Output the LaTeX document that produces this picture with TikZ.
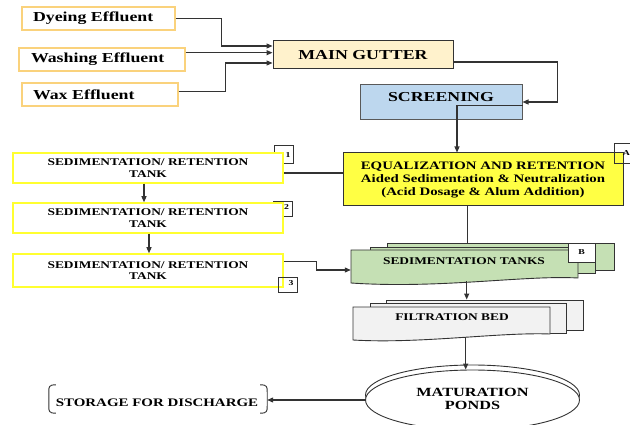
\documentclass[tikz,border=0pt]{standalone}
\usepackage{fontspec}
\setmainfont{Liberation Serif}[FakeStretch=1.3]
\usetikzlibrary{arrows.meta,calc,shapes.geometric}
\definecolor{effc}{HTML}{FAD27C}
\definecolor{tanky}{HTML}{FFFF30}
\definecolor{gutc}{HTML}{FFF2CC}
\definecolor{scrc}{HTML}{BDD7EE}
\definecolor{eqc}{HTML}{FFFF44}
\definecolor{sedc}{HTML}{C5E0B4}
\definecolor{filtc}{HTML}{F2F2F2}
\definecolor{linec}{HTML}{333333}
\tikzset{
  conn/.style={draw=linec, line width=1.1pt},
  arr/.style={conn, -{Triangle[length=6pt,width=5pt]}},
  bigfont/.style={font=\fontsize{13.7}{15}\selectfont\bfseries},
  effbox/.style={draw=effc, line width=1.2pt, fill=white, inner xsep=11pt, inner ysep=0pt,
    minimum height=23pt, align=left, bigfont},
  mainbox/.style={draw=black!80, line width=1pt, inner sep=0pt},
  tankbox/.style={draw=tanky, line width=1.5pt, fill=white, inner sep=0pt, minimum width=270pt,
    align=center, font=\fontsize{10.3}{11.7}\selectfont\bfseries},
  numbox/.style={draw=black!80, line width=0.8pt, inner sep=0pt},
  numtext/.style={inner sep=0pt, font=\fontsize{7.5}{8}\selectfont\bfseries},
  docline/.style={draw=black!80, line width=0.9pt},
  plain/.style={inner sep=0pt},
}
\begin{document}
\begin{tikzpicture}[x=1pt,y=-1pt]
\useasboundingbox (0,0) rectangle (630,425);
\clip (0,0) rectangle (630,425);

% effluent boxes
\node[effbox, text width=131pt] (dye) at (98.5,18.5) {Dyeing Effluent};
\node[effbox, text width=142pt, inner xsep=12pt] (wash) at (102,59.5) {Washing Effluent};
\node[effbox, text width=134pt] (wax) at (100,94.5) {Wax Effluent};

% main gutter and screening
\node[mainbox, fill=gutc, minimum width=180pt, minimum height=28pt, bigfont] (gut) at (363,55) {MAIN GUTTER};
\node[mainbox, draw=black!65, fill=scrc, minimum width=162pt, minimum height=35pt] (scr) at (441,102.5) {};
\node[plain, bigfont] (scrt) at (441,96.7) {SCREENING};

% equalization
\node[mainbox, fill=eqc, minimum width=280pt, minimum height=53pt, align=center,
  font=\fontsize{11.4}{13}\selectfont\bfseries] (eq) at (483,179.5)
  {EQUALIZATION AND RETENTION\\Aided Sedimentation \& Neutralization\\(Acid Dosage \& Alum Addition)};
\node[numbox, minimum width=26pt, minimum height=20pt] (nA) at (627,153) {};
\node[numtext] (nAt) at (626.3,153.5) {A};

% number boxes behind tanks
\node[numbox, minimum width=19pt, minimum height=18pt] (n1) at (283.5,154) {};
\node[numbox, minimum width=19pt, minimum height=15pt] (n2) at (282.5,208.5) {};

% tanks
\node[tankbox, minimum height=30pt] (t1) at (148,168) {SEDIMENTATION/ RETENTION\\TANK};
\node[tankbox, minimum height=30pt] (t2) at (148,218) {SEDIMENTATION/ RETENTION\\TANK};
\node[tankbox, minimum height=33pt] (t3) at (148,270.5) {SEDIMENTATION/ RETENTION\\TANK};
\node[numtext] (n1t) at (288,155) {1};
\node[numtext] (n2t) at (286.5,207) {2};
\node[numbox, minimum width=19pt, minimum height=15pt] (n3) at (287.5,284.5) {};
\node[numtext] (n3t) at (291,283) {3};

% sedimentation tanks (multi document)
\node[docline, fill=sedc, minimum width=227pt, minimum height=27pt, inner sep=0pt] (sed3) at (500.5,256.5) {};
\node[docline, fill=sedc, minimum width=225pt, minimum height=26pt, inner sep=0pt] (sed2) at (482.5,260) {};
\draw[docline, fill=sedc] (351,250) -- (578,250) -- (578,278)
  .. controls (525,275) and (440,289) .. (351,283) -- cycle;
\node[plain, minimum width=227pt, minimum height=33pt] (sedF) at (464.5,266.5) {};
\node[plain, font=\fontsize{10.3}{11.7}\selectfont\bfseries] (sedT) at (464,261) {SEDIMENTATION TANKS};
\node[numbox, fill=white, minimum width=27pt, minimum height=19pt] (nB) at (581.5,252.5) {};
\node[numtext] (nBt) at (581.5,252.5) {B};

% filtration bed (multi document)
\node[docline, fill=filtc, minimum width=197pt, minimum height=30pt, inner sep=0pt] (filt3) at (484.5,315) {};
\node[docline, fill=filtc, minimum width=196pt, minimum height=30pt, inner sep=0pt] (filt2) at (468,318) {};
\draw[docline, fill=filtc] (353,307) -- (550,307) -- (550,334)
  .. controls (500,332) and (420,344) .. (353,340) -- cycle;
\node[plain, minimum width=197pt, minimum height=33pt] (filtF) at (451.5,323.5) {};
\node[plain, font=\fontsize{10.3}{11.7}\selectfont\bfseries] (filtT) at (452,317) {FILTRATION BED};

% maturation ponds
\node[ellipse, docline, fill=white, minimum width=214pt, minimum height=60pt, inner sep=0pt] (matB) at (472.5,395) {};
\node[ellipse, docline, fill=white, minimum width=214pt, minimum height=60pt, inner sep=0pt] (matF) at (472.5,400) {};
\node[plain, align=center, font=\fontsize{12.5}{13.7}\selectfont\bfseries] (matT) at (472.5,399) {MATURATION\\PONDS};

% storage
\node[plain, minimum width=218pt, minimum height=28pt] (stor) at (158,399) {};
\node[plain, font=\fontsize{11.5}{13}\selectfont\bfseries] (storT) at (157,403) {STORAGE FOR DISCHARGE};
\draw[docline] ($(stor.north west)+(7,0)$) .. controls ($(stor.north west)+(0,0)$) and ($(stor.north west)+(0,2)$) .. ($(stor.north west)+(0,7)$)
  -- ($(stor.south west)+(0,-7)$) .. controls ($(stor.south west)+(0,-2)$) and ($(stor.south west)$) .. ($(stor.south west)+(7,0)$);
\draw[docline] ($(stor.north east)+(-7,0)$) .. controls ($(stor.north east)+(0,0)$) and ($(stor.north east)+(0,2)$) .. ($(stor.north east)+(0,7)$)
  -- ($(stor.south east)+(0,-7)$) .. controls ($(stor.south east)+(0,-2)$) and ($(stor.south east)$) .. ($(stor.south east)+(-7,0)$);

% connectors
\draw[arr] (dye.east) -| ([xshift=-51pt,yshift=9pt]gut.west) -- ([yshift=9pt]gut.west);
\draw[arr] ([yshift=6.8pt]wash.east) -- ([yshift=2.3pt]gut.west);
\draw[arr] ([yshift=2.8pt]wax.east) -| ([xshift=-47pt,yshift=-8pt]gut.west) -- ([yshift=-8pt]gut.west);
\draw[arr] ([yshift=-7pt]gut.east) -| ([xshift=35pt,yshift=0.5pt]scr.east) -- ([yshift=0.5pt]scr.east);
\draw[arr] ([yshift=-3pt]scr.east) -| ([xshift=-26pt]eq.north);
\coordinate (eqL) at ([yshift=6.5pt]eq.west);
\draw[conn] (eqL) -- (eqL -| t1.east);
\draw[arr] ([xshift=-4pt]t1.south) -- ([xshift=-4pt]t2.north);
\draw[arr] ([xshift=1pt]t2.south) -- ([xshift=1pt]t3.north);
\draw[arr] ([yshift=9pt]t3.east) -| ([xshift=-34pt,yshift=-3.5pt]sedF.west) -- ([yshift=-3.5pt]sedF.west);
\coordinate (e1) at ([xshift=-15.3pt]eq.south);
\draw[conn] (e1) -- (e1 |- sed3.north);
\coordinate (s1) at ([xshift=2.2pt,yshift=2pt]sedF.south);
\draw[arr] (s1) -- (s1 |- filt3.north);
\coordinate (f1) at ([xshift=14.2pt,yshift=3pt]filtF.south);
\draw[arr] (f1) -- (f1 |- matF.north);
\draw[arr] (matF.west) -- (matF.west -| stor.east);
\end{tikzpicture}
\end{document}
